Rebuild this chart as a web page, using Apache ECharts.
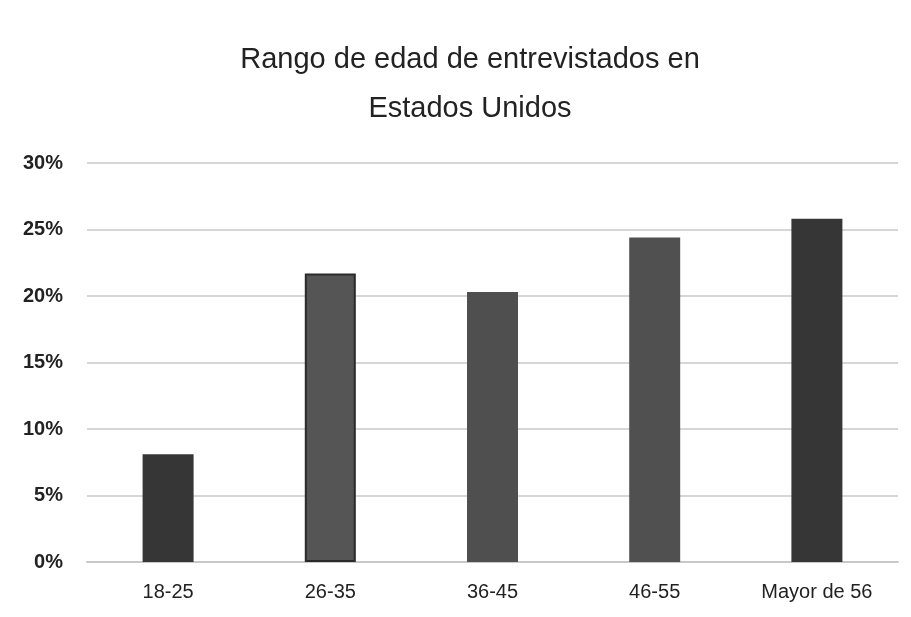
<!DOCTYPE html>
<html>
<head>
<meta charset="utf-8">
<script src="https://cdn.jsdelivr.net/npm/echarts@6/dist/echarts.min.js"></script>
<style>
html,body{margin:0;padding:0;background:#fff;}
#c{width:911px;height:617px;}
</style>
</head>
<body>
<div id="c"></div>
<script>
const categories = ['18-25', '26-35', '36-45', '46-55', 'Mayor de 56'];
const values = [8.1, 21.7, 20.3, 24.4, 25.8];
const barColors = ['#363636', '#555555', '#4f4f4f', '#505050', '#363636'];
const titleLines = ['Rango de edad de entrevistados en', 'Estados Unidos'];

const FONT = '"Liberation Sans Narrow", "Arial Narrow", "Liberation Sans", Arial, sans-serif';
const chart = echarts.init(document.getElementById('c'));
chart.setOption({
  backgroundColor: '#ffffff',
  animation: false,
  title: titleLines.map((t, i) => ({
    text: t,
    left: 465,
    textAlign: 'center',
    top: 40 + i * 49,
    textStyle: {
      fontFamily: FONT,
      fontSize: 29,
      fontWeight: 'normal',
      color: '#222222'
    }
  })),
  grid: { left: 87, right: 13, top: 163, bottom: 55, containLabel: false },
  xAxis: {
    type: 'category',
    data: categories,
    axisLine: { show: true, lineStyle: { color: '#c8c8c8', width: 2 } },
    axisTick: { show: false },
    axisLabel: {
      margin: 20,
      fontFamily: FONT,
      fontSize: 20,
      color: '#222222'
    }
  },
  yAxis: {
    type: 'value',
    min: 0,
    max: 30,
    interval: 5,
    axisLine: { show: false },
    axisTick: { show: false },
    splitLine: { lineStyle: { color: '#d6d6d6', width: 2 } },
    axisLabel: {
      formatter: '{value}%',
      margin: 24,
      fontFamily: FONT,
      fontSize: 20,
      fontWeight: 'bold',
      color: '#222222'
    }
  },
  series: [{
    type: 'bar',
    data: values.map((v, i) => ({
      value: v,
      itemStyle: {
        color: barColors[i],
        borderColor: i === 1 ? '#2a2a2a' : barColors[i],
        borderWidth: i === 1 ? 2 : 0
      }
    })),
    barWidth: 51
  }]
});
</script>
</body>
</html>
